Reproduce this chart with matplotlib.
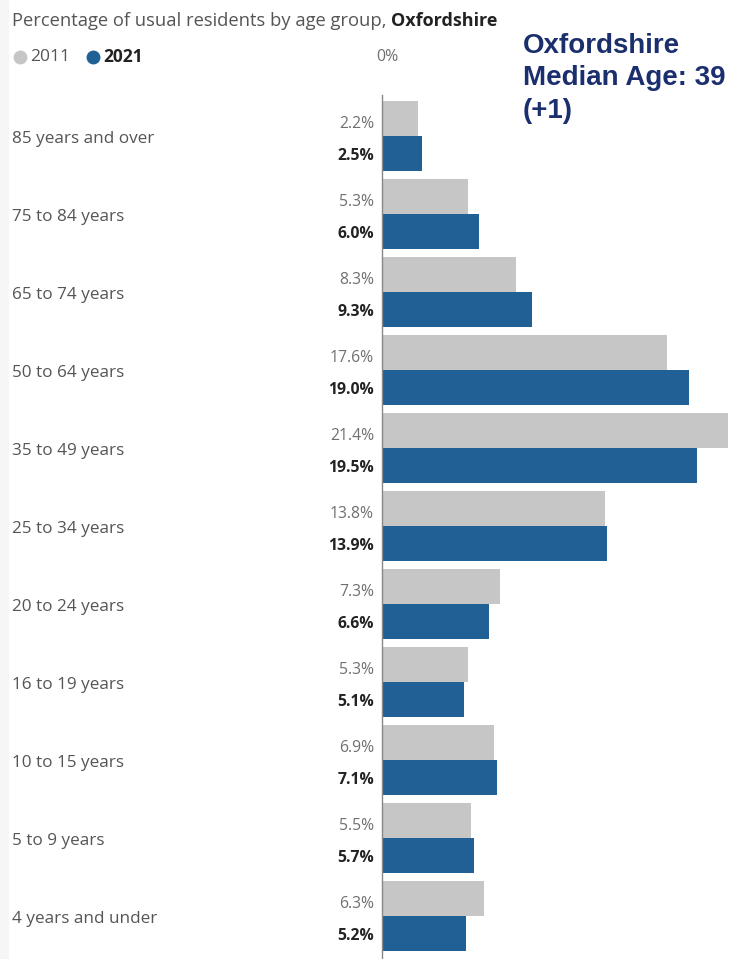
import matplotlib
matplotlib.use("Agg")
import matplotlib.pyplot as plt
from matplotlib.patches import Rectangle

plt.rcParams['font.family'] = ['Open Sans', 'DejaVu Sans']

categories = ["85 years and over", "75 to 84 years", "65 to 74 years", "50 to 64 years",
              "35 to 49 years", "25 to 34 years", "20 to 24 years", "16 to 19 years",
              "10 to 15 years", "5 to 9 years", "4 years and under"]
values_2011 = [2.2, 5.3, 8.3, 17.6, 21.4, 13.8, 7.3, 5.3, 6.9, 5.5, 6.3]
values_2021 = [2.5, 6.0, 9.3, 19.0, 19.5, 13.9, 6.6, 5.1, 7.1, 5.7, 5.2]
series = ["2011", "2021"]

W, H = 748, 959
fig = plt.figure(figsize=(W/100, H/100), dpi=100)
# faint left page border
fig.patches.append(Rectangle((0, 0), 8/W, 1, transform=fig.transFigure,
                             color="#f6f6f6", zorder=0))
ax = fig.add_axes([0, 0, 1, 1])
ax.patch.set_alpha(0)
px_per_pct = 16.17
x0 = 382
ax.set_xlim(-x0/px_per_pct, (W-x0)/px_per_pct)
row0, rowh = 136, 78.0
ax.set_ylim((H-row0)/rowh, -row0/rowh)
ax.axis('off')

grey = "#c6c6c6"
blue = "#206095"
bh = 0.45
for i, (a, b) in enumerate(zip(values_2011, values_2021)):
    ax.barh(i - bh/2 - 0.005, a, height=bh, color=grey, edgecolor='none')
    ax.barh(i + bh/2 + 0.005, b, height=bh, color=blue, edgecolor='none')
    ax.text(-0.5, i - 0.15, f"{a:.1f}%", ha='right', va='center', fontsize=11.3, color="#707070")
    ax.text(-0.5, i + 0.26, f"{b:.1f}%", ha='right', va='center', fontsize=11.3,
            color="#222222", fontweight='bold')
    ax.text((12-x0)/px_per_pct, i + 0.04, categories[i], ha='left', va='center',
            fontsize=12.3, color="#555555")

# zero axis line
ax.plot([0, 0], [-0.52, (H-row0)/rowh], color="#888888", lw=1)

# title
t = fig.text(12/W, 1-21/H, "Percentage of usual residents by age group, ", fontsize=13.2,
             color="#555555", va='center', ha='left')
fig.canvas.draw()
bb = t.get_window_extent()
fig.text(bb.x1/W, 1-21/H, "Oxfordshire", fontsize=13, color="#222222",
         fontweight='bold', va='center', ha='left')

# legend
ly = (57-row0)/rowh
ax.scatter([(20-x0)/px_per_pct], [ly], s=100, color=grey, clip_on=False, linewidths=0)
ax.text((30-x0)/px_per_pct, ly, series[0], fontsize=12.5, color="#555555", va='center')
ax.scatter([(93-x0)/px_per_pct], [ly], s=100, color=blue, clip_on=False, linewidths=0)
ax.text((103-x0)/px_per_pct, ly, series[1], fontsize=12.5, color="#222222",
        va='center', fontweight='bold')
ax.text(0.35, ly, "0%", fontsize=11.5, color="#707070", va='center', ha='center')

fig.text(523/W, 1-33/H, "Oxfordshire\nMedian Age: 39\n(+1)", fontsize=20,
         family=['Liberation Sans', 'DejaVu Sans'], fontweight='bold', color="#1b2f6e",
         va='top', ha='left', linespacing=1.32)

fig.savefig("out.png", dpi=100, facecolor='white')
